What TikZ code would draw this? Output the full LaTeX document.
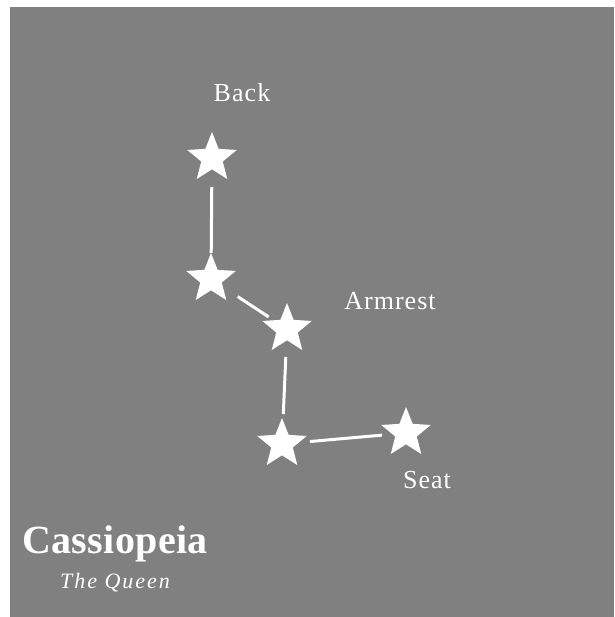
\documentclass[tikz,border=0pt]{standalone}
\usepackage{fontspec}
\setmainfont{Liberation Serif}
\usepackage{xcolor}
\definecolor{skygray}{RGB}{128,128,128}
\usepackage{tikz}
\usetikzlibrary{positioning,shapes.geometric}
\tikzset{
  starnode/.style={star,star points=5,star point ratio=2.3,fill=white,draw=none,
    minimum size=52pt,inner sep=0pt},
  link/.style={white,line width=3pt},
  lbl/.style={text=white,anchor=base,inner sep=0pt,
    font=\fontsize{26}{30}\selectfont\addfontfeature{LetterSpace=4}},
}
\begin{document}
\begin{tikzpicture}[x=1pt,y=-1pt]
  \useasboundingbox (0,0) rectangle (614,617);
  \fill[skygray] (10,7) rectangle (614,617);
  % Sterne: Lehne oben, Armlehne, Sitz unten
  \node[starnode] (back)  at (212,158) {};
  \node[starnode] (bend)  at (211,279) {};
  \node[starnode] (arm)   at (287,329) {};
  \node[starnode] (knee)  at (282,444) {};
  \node[starnode] (seat)  at (406,433) {};
  \draw[link,shorten <=29pt,shorten >=26pt] (back.center) -- (bend.center);
  \draw[link,shorten <=32pt,shorten >=22pt] (bend.center) -- (arm.center);
  \draw[link,shorten <=28pt,shorten >=30pt] (arm.center) -- (knee.center);
  \draw[link,shorten <=28pt,shorten >=24pt] (knee.center) -- (seat.center);
  % Beschriftung
  \node[lbl] (backlbl) at (242,102) {Back};
  \node[lbl] (armlbl)  at (390,309) {Armrest};
  \node[lbl] (seatlbl) at (427,488) {Seat};
  \node[lbl,font=\fontsize{40}{44}\selectfont\bfseries\addfontfeature{LetterSpace=1}]
    (title) at (115,553) {Cassiopeia};
  \node[lbl,font=\fontsize{22}{26}\selectfont\itshape\addfontfeature{LetterSpace=9}]
    (subtitle) at (115,588) {The Queen};
\end{tikzpicture}
\end{document}
